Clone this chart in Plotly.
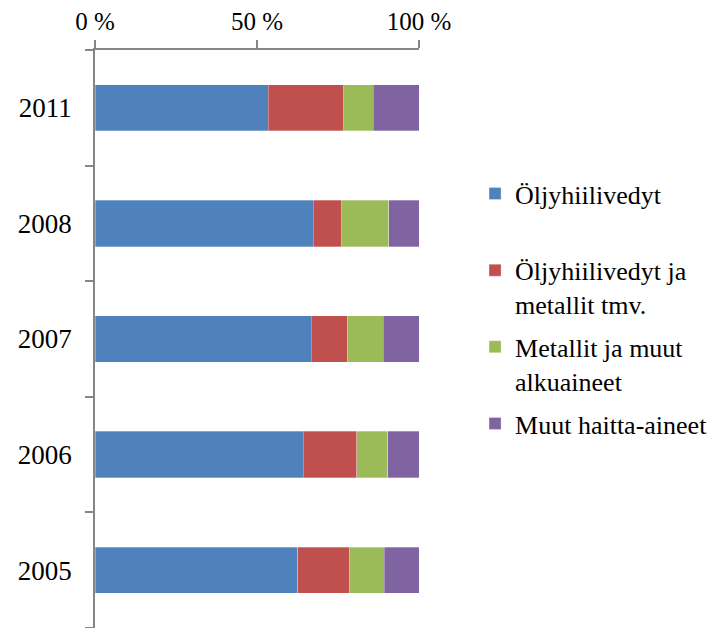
import plotly.graph_objects as go

years = ["2005", "2006", "2007", "2008", "2011"]
series_names = [
    "Öljyhiilivedyt<br>&nbsp;",
    "Öljyhiilivedyt ja<br>metallit tmv.",
    "Metallit ja muut<br>alkuaineet",
    "Muut haitta-aineet",
]
oljy = [62.5, 64.3, 66.8, 67.4, 53.5]
oljy_met = [15.9, 16.5, 11.0, 8.7, 23.2]
metallit = [10.8, 9.5, 11.1, 14.6, 9.2]
muut = [10.8, 9.7, 11.1, 9.3, 14.1]
colors = ["#4F81BD", "#C0504D", "#9BBB59", "#8064A2"]
tick_vals = [0, 50, 100]
tick_text = ["0 %", "50 %", "100 %"]

fig = go.Figure()
for i, (name, vals, col) in enumerate(zip(series_names, [oljy, oljy_met, metallit, muut], colors)):
    fig.add_trace(go.Bar(
        y=years, x=vals, name=name, orientation="h", legendgroup=f"g{i}",
        marker=dict(color=col, line=dict(color="rgba(255,255,255,0.5)", width=0.6)),
    ))

FAM = "Liberation Serif"
fig.update_layout(
    barmode="stack",
    bargap=0.6,
    width=713, height=620,
    margin=dict(l=87, r=302, t=42, b=0),
    paper_bgcolor="white", plot_bgcolor="white",
    font=dict(family=FAM, size=25, color="#000000"),
    legend=dict(x=1.173, y=0.792, xanchor="left", yanchor="top", valign="top",
                traceorder="grouped", font=dict(family=FAM, size=26, color="#000000"),
                tracegroupgap=6, itemwidth=30),
    xaxis=dict(side="top", range=[0, 100], tickvals=tick_vals, ticktext=tick_text,
               showgrid=False, zeroline=False, showline=True, linecolor="#868686",
               linewidth=1.5, ticks="outside", ticklen=8, tickcolor="#868686",
               tickwidth=1.5, tickfont=dict(family=FAM, size=25, color="#000000"),
               automargin=False),
    yaxis=dict(type="category", categoryorder="array", categoryarray=years,
               showgrid=False, zeroline=False, showline=True, linecolor="#868686",
               linewidth=1.5, ticks="outside", ticklen=8, tickcolor="#868686",
               tickwidth=1.5, tickson="boundaries",
               tickfont=dict(family=FAM, size=27, color="#000000"),
               ticklabelstandoff=16, automargin=False),
)
fig.write_html("out.html")
